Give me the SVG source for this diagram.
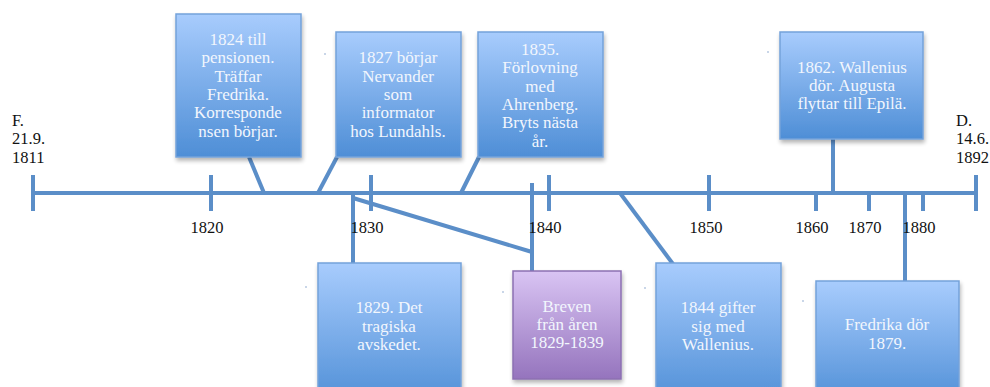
<svg xmlns="http://www.w3.org/2000/svg" width="990" height="387" viewBox="0 0 990 387">
<defs>
<linearGradient id="gb" x1="0" y1="0" x2="0" y2="1">
<stop offset="0" stop-color="#a8ccfd"/>
<stop offset="1" stop-color="#4e8ed6"/>
</linearGradient>
<linearGradient id="gp" x1="0" y1="0" x2="0" y2="1">
<stop offset="0" stop-color="#d9c4f3"/>
<stop offset="1" stop-color="#9574bd"/>
</linearGradient>
<filter id="sh" x="-10%" y="-10%" width="125%" height="125%">
<feGaussianBlur in="SourceAlpha" stdDeviation="2"/>
<feOffset dx="1" dy="3"/>
<feComponentTransfer><feFuncA type="linear" slope="0.3"/></feComponentTransfer>
<feMerge><feMergeNode/><feMergeNode in="SourceGraphic"/></feMerge>
</filter>
</defs>
<style>
.ln{stroke:#5b8ec8;stroke-width:4;fill:none;stroke-linecap:butt}
.box{fill:url(#gb);stroke:#74a2da;stroke-width:1.5;filter:url(#sh)}
.pbox{fill:url(#gp);stroke:#8c70b2;stroke-width:1.5;filter:url(#sh)}
.bt{font-family:"Liberation Serif",serif;font-size:17px;fill:#f2f6fd;text-anchor:middle}
.ax{font-family:"Liberation Serif",serif;font-size:16.5px;fill:#111;text-anchor:middle}
.side{font-family:"Liberation Serif",serif;font-size:16.5px;fill:#111}
.dot{fill:#6a8fc0}
</style>
<g id="connectors">
<line class="ln" x1="33" y1="193" x2="976" y2="193"/>
<line class="ln" x1="33" y1="175" x2="33" y2="211"/>
<line class="ln" x1="211" y1="175" x2="211" y2="211"/>
<line class="ln" x1="371" y1="175" x2="371" y2="211"/>
<line class="ln" x1="549" y1="175" x2="549" y2="211"/>
<line class="ln" x1="709" y1="175" x2="709" y2="211"/>
<line class="ln" x1="816" y1="193" x2="816" y2="211"/>
<line class="ln" x1="869" y1="193" x2="869" y2="211"/>
<line class="ln" x1="923" y1="193" x2="923" y2="211"/>
<line class="ln" x1="976" y1="175" x2="976" y2="211"/>
<line class="ln" x1="249" y1="157" x2="264" y2="193"/>
<line class="ln" x1="337" y1="157" x2="318" y2="193"/>
<line class="ln" x1="479" y1="157" x2="461" y2="193"/>
<line class="ln" x1="833" y1="139" x2="833" y2="193"/>
<line class="ln" x1="353" y1="193" x2="353" y2="264"/>
<line class="ln" x1="353" y1="198" x2="532" y2="252"/>
<line class="ln" x1="532" y1="183" x2="532" y2="272"/>
<line class="ln" x1="620" y1="193" x2="673" y2="264"/>
<line class="ln" x1="905" y1="193" x2="905" y2="282"/>
</g>
<g id="axis-labels">
<text class="side" x="12" y="126">F.</text>
<text class="side" x="12" y="144">21.9.</text>
<text class="side" x="12" y="163">1811</text>
<text class="side" x="956" y="126">D.</text>
<text class="side" x="956" y="144">14.6.</text>
<text class="side" x="956" y="163">1892</text>
<text class="ax" x="207" y="233">1820</text>
<text class="ax" x="367" y="233">1830</text>
<text class="ax" x="545" y="233">1840</text>
<text class="ax" x="706" y="233">1850</text>
<text class="ax" x="812" y="233">1860</text>
<text class="ax" x="865" y="233">1870</text>
<text class="ax" x="919" y="233">1880</text>
</g>
<g id="n1824">
<rect class="box" x="176" y="14" width="125" height="143"/>
<text class="bt" x="238" y="45">1824 till</text>
<text class="bt" x="238" y="63">pensionen.</text>
<text class="bt" x="238" y="82">Träffar</text>
<text class="bt" x="238" y="100">Fredrika.</text>
<text class="bt" x="238" y="118">Korresponde</text>
<text class="bt" x="238" y="137">nsen börjar.</text>
</g>
<g id="n1827">
<rect class="box" x="336" y="32" width="125" height="125"/>
<text class="bt" x="398" y="63">1827 börjar</text>
<text class="bt" x="398" y="82">Nervander</text>
<text class="bt" x="398" y="100">som</text>
<text class="bt" x="398" y="118">informator</text>
<text class="bt" x="398" y="137">hos Lundahls.</text>
</g>
<g id="n1835">
<rect class="box" x="478" y="32" width="125" height="125"/>
<text class="bt" x="540" y="55">1835.</text>
<text class="bt" x="540" y="73">Förlovning</text>
<text class="bt" x="540" y="92">med</text>
<text class="bt" x="540" y="110">Ahrenberg.</text>
<text class="bt" x="540" y="128">Bryts nästa</text>
<text class="bt" x="540" y="147">år.</text>
</g>
<g id="n1862">
<rect class="box" x="780" y="32" width="143" height="107"/>
<text class="bt" x="852" y="73">1862. Wallenius</text>
<text class="bt" x="852" y="91">dör. Augusta</text>
<text class="bt" x="852" y="109">flyttar till Epilä.</text>
</g>
<g id="n1829">
<rect class="box" x="318" y="263" width="143" height="143"/>
<text class="bt" x="389" y="313">1829. Det</text>
<text class="bt" x="389" y="332">tragiska</text>
<text class="bt" x="389" y="350">avskedet.</text>
</g>
<g id="nBreven">
<rect class="pbox" x="513" y="271" width="108" height="108"/>
<text class="bt" x="567" y="312">Breven</text>
<text class="bt" x="567" y="330">från åren</text>
<text class="bt" x="567" y="348">1829-1839</text>
</g>
<g id="n1844">
<rect class="box" x="656" y="263" width="125" height="143"/>
<text class="bt" x="718" y="313">1844 gifter</text>
<text class="bt" x="718" y="332">sig med</text>
<text class="bt" x="718" y="350">Wallenius.</text>
</g>
<g id="n1879">
<rect class="box" x="816" y="281" width="143" height="125"/>
<text class="bt" x="887" y="330">Fredrika dör</text>
<text class="bt" x="887" y="349">1879.</text>
</g>
<g id="specks">
<circle class="dot" cx="325" cy="54" r="0.7"/>
<circle class="dot" cx="768" cy="52" r="0.7"/>
<circle class="dot" cx="306" cy="287" r="0.7"/>
<circle class="dot" cx="503" cy="292" r="0.7"/>
<circle class="dot" cx="645" cy="288" r="0.7"/>
<circle class="dot" cx="803" cy="301" r="0.7"/>
</g>
</svg>
